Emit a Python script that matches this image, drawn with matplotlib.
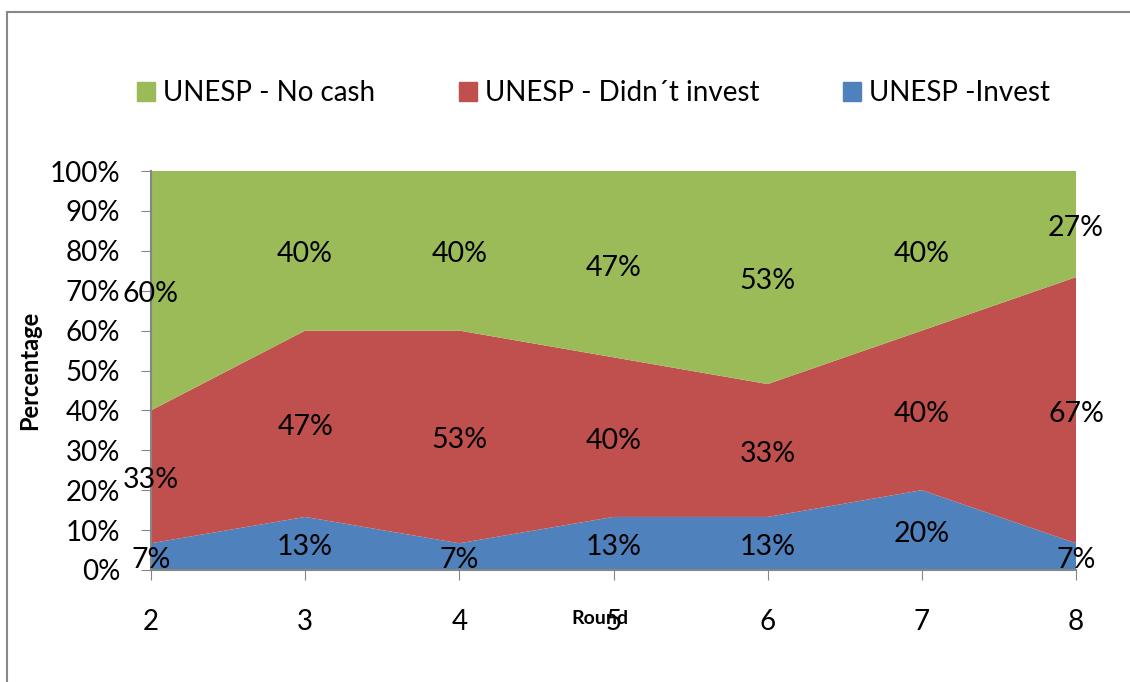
import matplotlib.pyplot as plt
import matplotlib.patches as mpatches
import numpy as np

# stacked percentages per round (bottom to top)
rounds = [2, 3, 4, 5, 6, 7, 8]
invest = [6.7, 13.3, 6.7, 13.3, 13.3, 20.0, 6.7]
didnt_invest = [33.3, 46.7, 53.3, 40.0, 33.3, 40.0, 66.7]
no_cash = [60.0, 40.0, 40.0, 46.7, 53.4, 40.0, 26.6]

labels = ["UNESP -Invest", "UNESP - Didn\u00b4t invest", "UNESP - No cash"]
colors = ["#4F81BD", "#C0504D", "#9BBB59"]
series = [invest, didnt_invest, no_cash]

plt.rcParams['font.family'] = ['Lato', 'DejaVu Sans']

fig = plt.figure(figsize=(11.3, 6.82), dpi=100)
ax = fig.add_axes([151/1130, 1-570/682, 925/1130, 399/682])

ax.stackplot(rounds, *series, colors=colors, linewidth=0)

# data labels in the middle of each band
base = np.zeros(len(rounds))
for vals in series:
    vals = np.array(vals)
    for x, b, v in zip(rounds, base, vals):
        ax.annotate(f"{v:.0f}%", (x, b + v/2), xytext=(0, -2.5), textcoords='offset points',
                    ha='center', va='center', fontsize=20.5, color='black')
    base = base + vals

ax.set_xlim(2, 8)
ax.set_ylim(0, 100)
ax.set_xticks(rounds)
ax.set_yticks(np.arange(0, 101, 10))
ax.set_yticklabels([f"{v}%" for v in range(0, 101, 10)])
ax.tick_params(axis='both', labelsize=20, color='#868686', direction='out')
ax.tick_params(axis='y', length=7, pad=15)
ax.tick_params(axis='x', length=7, pad=21)
for s in ['top', 'right']:
    ax.spines[s].set_visible(False)
for s in ['left', 'bottom']:
    ax.spines[s].set_color('#868686')
    ax.spines[s].set_linewidth(1.5)
ax.set_zorder(1)

fig.text(30/1130, 1-370/682, "Percentage", rotation=90, ha='center', va='center',
         fontsize=17, fontweight='bold')
fig.text(600/1130, 1-618/682, "Round", ha='center', va='center', fontsize=14, fontweight='bold')

handles = [mpatches.Patch(color=colors[i], label=labels[i]) for i in [2, 1, 0]]
fig.legend(handles=handles, loc='center left', bbox_to_anchor=(137/1130, 1-93/682),
           ncol=3, frameon=False, fontsize=20, handlelength=0.65, handleheight=0.65,
           handletextpad=0.3, columnspacing=3.0, borderpad=0, borderaxespad=0)

# outer chart border
fig.patches.append(mpatches.Rectangle((7/1130, -0.1), 2, 1.1 - 12/682,
                                      transform=fig.transFigure, fill=False,
                                      edgecolor='#888888', linewidth=1.5))

fig.savefig("out.png", dpi=100)
